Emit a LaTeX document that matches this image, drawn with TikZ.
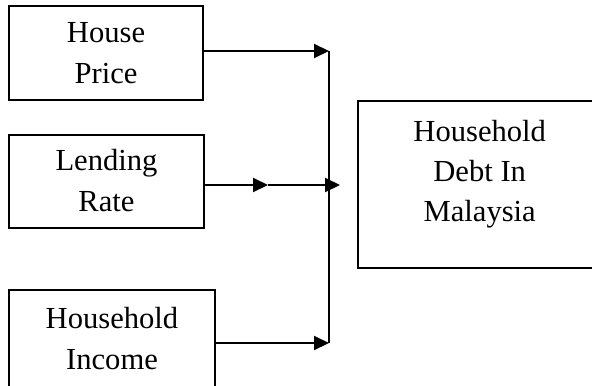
\documentclass[tikz,border=0pt]{standalone}
\usepackage{fontspec}
\setmainfont{Liberation Serif}
\usetikzlibrary{arrows.meta}

\begin{document}
\begin{tikzpicture}[x=0.5pt, y=-0.5pt,
    box/.style={draw, line width=1pt, inner sep=0pt, align=center,
      font=\fontsize{15.3}{20.5}\selectfont},
    arr/.style={line width=1pt, -{Triangle[length=7.5pt, width=7pt]}}]
    \useasboundingbox (0,0) rectangle (592,385);

    %% factor boxes
    \node[box, minimum width=97pt, minimum height=47pt] (price) at (106,53) {House\\Price};
    \node[box, minimum width=97.5pt, minimum height=46.5pt] (rate) at (106.5,181) {Lending\\Rate};
    \node[box, minimum width=103pt, minimum height=48.5pt] (income) at (112,338.5) {Household\\Income};

    %% outcome box (text sits high, so it is set on its own)
    \node[box, minimum width=121.5pt, minimum height=83.5pt] (debt) at (479.7,184.5) {};
    \node[box, draw=none, font=\fontsize{15.3}{20}\selectfont] (debttext) at (479.7,174.5)
      {Household\\Debt In\\Malaysia};

    %% joining line
    \coordinate (top) at (329,51);
    \coordinate (bot) at (329,343);
    \coordinate (half) at (268,185);
    \coordinate (tip) at (340,185);
    \draw[line width=1pt] (top) -- (bot);
    \draw[arr] (price.east |- top) -- (top);
    \draw[arr] (rate.east |- half) -- (half);
    \draw[arr] (half) -- (tip);
    \draw[arr] (income.east |- bot) -- (bot);
\end{tikzpicture}
\end{document}
